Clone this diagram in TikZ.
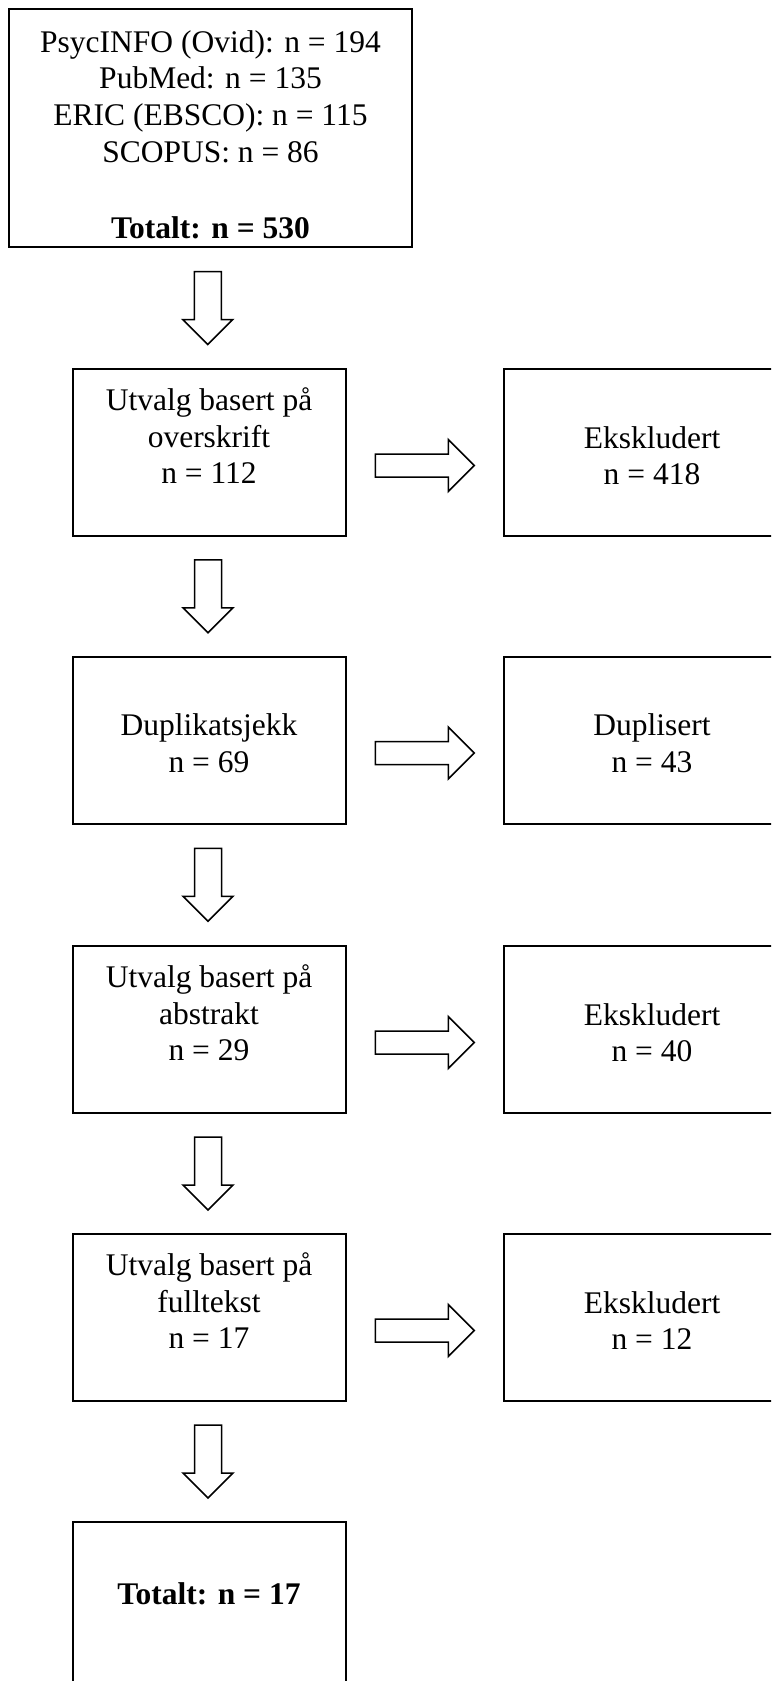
\documentclass[tikz,border=0pt]{standalone}
\usepackage{fontspec}
\setmainfont{Liberation Serif}
\usetikzlibrary{calc}
\begin{document}
\begin{tikzpicture}[x=1pt,y=-1pt,
  box/.style={draw,line width=2pt,rectangle,inner sep=0pt,minimum width=273pt,minimum height=167pt},
  rbox/.style={box,minimum width=296pt},
  txt/.style={anchor=north,inner sep=0pt,align=center,font=\fontsize{31.5}{36.7}\selectfont,execute at begin node=\strut},
  barrow/.style={draw,line width=1.5pt,fill=white,line join=miter},
  darrow/.pic={\draw[barrow] (-13.5,-36.5) -- (13.5,-36.5) -- (13.5,11.5) -- (25,11.5) -- (0,36.5) -- (-25,11.5) -- (-13.5,11.5) -- cycle;},
  rarrow/.pic={\draw[barrow] (-49.5,-11.5) -- (23.5,-11.5) -- (23.5,-26) -- (49.5,0) -- (23.5,26) -- (23.5,11.5) -- (-49.5,11.5) -- cycle;}
]
\clip (0,0) rectangle (771,1681);
\fill[white] (0,0) rectangle (771,1681);

% left column boxes
\node[box,minimum width=403pt,minimum height=238pt] (b1) at (210.5,128) {};
\node[box] (b2) at (209,452.5) {};
\node[box] (b3) at (209,740) {};
\node[box] (b4) at (209,1029.5) {};
\node[box] (b5) at (209,1317.5) {};
\node[box,minimum height=200pt] (b6) at (209,1622) {};

% right column boxes
\node[rbox] (e1) at (652,452.5) {};
\node[rbox] (e2) at (652,740) {};
\node[rbox] (e3) at (652,1029.5) {};
\node[rbox] (e4) at (652,1317.5) {};

% texts
\node[txt] (t1) at ($(b1.north)+(0,22)$) {PsycINFO (Ovid): n = 194\\PubMed: n = 135\\ERIC (EBSCO): n = 115\\SCOPUS: n = 86\\[39.7pt]\textbf{Totalt: n = 530}};
\node[txt] (t2) at ($(b2.north)+(0,19.5)$) {Utvalg basert på\\overskrift\\n = 112};
\node[txt] (t3) at ($(b3.north)+(0,58)$) {Duplikatsjekk\\n = 69};
\node[txt] (t4) at ($(b4.north)+(0,19.5)$) {Utvalg basert på\\abstrakt\\n = 29};
\node[txt] (t5) at ($(b5.north)+(0,19.5)$) {Utvalg basert på\\fulltekst\\n = 17};
\node[txt] (t6) at ($(b6.north)+(0,58)$) {\textbf{Totalt: n = 17}};
\node[txt] (s1) at ($(e1.north)+(0,58)$) {Ekskludert\\n = 418};
\node[txt] (s2) at ($(e2.north)+(0,58)$) {Duplisert\\n = 43};
\node[txt] (s3) at ($(e3.north)+(0,58)$) {Ekskludert\\n = 40};
\node[txt] (s4) at ($(e4.north)+(0,58)$) {Ekskludert\\n = 12};

% down arrows
\pic at ($(b1.south)!0.5!(b2.north)+(-2,0)$) {darrow};
\pic at ($(b2.south)!0.5!(b3.north)+(-1,0)$) {darrow};
\pic at ($(b3.south)!0.5!(b4.north)+(-1,0)$) {darrow};
\pic at ($(b4.south)!0.5!(b5.north)+(-1,0)$) {darrow};
\pic at ($(b5.south)!0.5!(b6.north)+(-1,0)$) {darrow};

% right arrows
\pic at ($(b2.east)!0.5!(e1.west)+(0,13)$) {rarrow};
\pic at ($(b3.east)!0.5!(e2.west)+(0,13)$) {rarrow};
\pic at ($(b4.east)!0.5!(e3.west)+(0,13)$) {rarrow};
\pic at ($(b5.east)!0.5!(e4.west)+(0,13)$) {rarrow};
\end{tikzpicture}
\end{document}
